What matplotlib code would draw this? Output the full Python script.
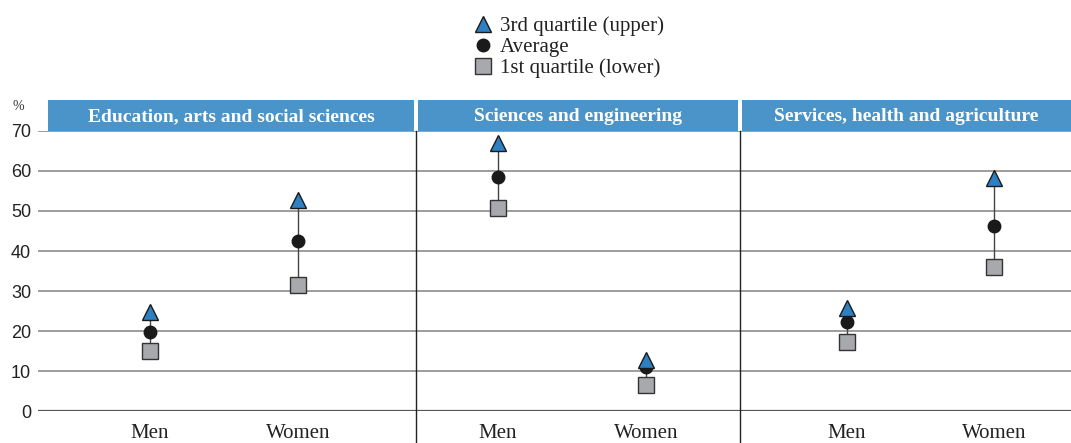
import numpy as np
import matplotlib
matplotlib.use("Agg")
from matplotlib import pyplot as plt
from matplotlib.patches import Rectangle
from matplotlib.lines import Line2D

# ---- data ----
fields = ['Education, arts and social sciences',
          'Sciences and engineering',
          'Services, health and agriculture']
sexes = ['Men', 'Women']
# per field: [Men, Women]
q3_upper = [[24.7, 52.7], [66.9, 12.7], [25.8, 58.2]]
average = [[19.7, 42.4], [58.5, 11.1], [22.2, 46.3]]
q1_lower = [[15.1, 31.6], [50.7, 6.5], [17.2, 36.1]]
yticks = [0, 10, 20, 30, 40, 50, 60, 70]
legend_labels = ['3rd quartile (upper)', 'Average', '1st quartile (lower)']

# ---- layout (x in pixel-like units) ----
panel_left = [38, 416, 740]
panel_right = [416, 740, 1071]
cat_x = [[150, 298], [498, 646], [847, 994]]

BLUE = '#4a94c9'
TRI = '#2f80c2'
SQ = '#a7a9ac'
SERIF = 'Liberation Serif'
W, H = 1071, 443

fig = plt.figure(figsize=(W / 100, H / 100), dpi=100)
ax = fig.add_axes([38 / W, 32 / H, 1 - 38 / W, 280 / H])
ax.set_xlim(38, 1071)
ax.set_ylim(0, 70)

for s in ax.spines.values():
    s.set_visible(False)
ax.set_xticks([])
ax.set_yticks(yticks)
ax.set_yticklabels([str(t) for t in yticks], fontsize=13, color='#222222',
                   family='Liberation Sans')
ax.tick_params(axis='y', length=0, pad=5)

for t in yticks:
    if t == 0:
        ax.axhline(t, color='#555555', lw=1.6, zorder=1)
    else:
        ax.axhline(t, color='#8c8c8c', lw=1.2, zorder=1)

# vertical dividers
for xd in panel_left[1:]:
    ax.plot([xd, xd], [-8, 70], color='#222222', lw=1.0, clip_on=False, zorder=2)

# header band
for i, name in enumerate(fields):
    x0 = panel_left[i] + 2 if i > 0 else 48
    x1 = panel_right[i] - 2 if i < 2 else 1071
    ax.add_patch(Rectangle((x0, 70), x1 - x0, 7.75, facecolor=BLUE,
                           edgecolor='none', clip_on=False, zorder=3))
    ax.text((x0 + x1) / 2, 70 + 7.75 / 2 - 0.3, name, color='white', fontsize=14,
            fontweight='bold', family=SERIF, ha='center', va='center',
            clip_on=False, zorder=4)

# marks
for i in range(len(fields)):
    for j in range(len(sexes)):
        x = cat_x[i][j]
        ax.plot([x, x], [q1_lower[i][j], q3_upper[i][j]], color='#444444',
                lw=1.0, zorder=4)
        ax.plot(x, q1_lower[i][j], marker='s', ms=11, mfc=SQ, mec='#333333',
                mew=1.0, ls='none', zorder=5)
        ax.plot(x, average[i][j], marker='o', ms=9, mfc='#1a1a1a',
                mec='#1a1a1a', ls='none', zorder=6)
        ax.plot(x, q3_upper[i][j], marker='^', ms=11, mfc=TRI, mec='#1a1a1a',
                mew=1.0, ls='none', zorder=7)
        ax.text(x, -5.6, sexes[j], fontsize=15, family=SERIF, color='#222222',
                ha='center', va='center', clip_on=False)

# % label
fig.text(18 / W, 1 - 107 / H, '%', fontsize=10, color='#333333',
         ha='center', va='center', family=SERIF)

# legend, drawn by hand so the rows are evenly spaced
leg_styles = [
    dict(marker='^', ms=11, mfc=TRI, mec='#1a1a1a'),
    dict(marker='o', ms=9, mfc='#1a1a1a', mec='#1a1a1a'),
    dict(marker='s', ms=11, mfc=SQ, mec='#333333'),
]
for k, (lab, st) in enumerate(zip(legend_labels, leg_styles)):
    yy = 1 - (24 + 21 * k) / H
    fig.add_artist(Line2D([483 / W], [yy], ls='none', transform=fig.transFigure, **st))
    fig.text(500 / W, yy, lab, fontsize=15, family=SERIF, color='#222222',
             ha='left', va='center_baseline')

fig.savefig('out.png', dpi=100)
